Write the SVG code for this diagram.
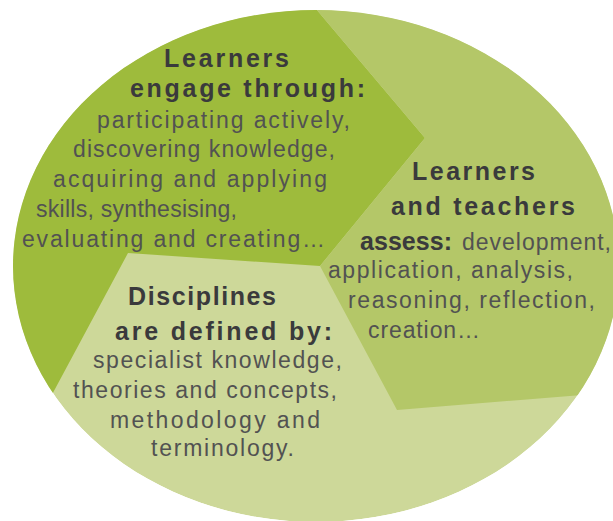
<svg xmlns="http://www.w3.org/2000/svg" width="613" height="521" viewBox="0 0 613 521">
  <style>
    .h { font-family: "Liberation Sans", Arial, sans-serif; font-weight: bold; font-size: 25px; fill: #3a3a3c; }
    .t { font-family: "Liberation Sans", Arial, sans-serif; font-size: 23px; fill: #525252; }
  </style>
  <defs>
    <clipPath id="oval">
      <ellipse cx="316" cy="266" rx="303" ry="256"/>
    </clipPath>
  </defs>
  <rect width="613" height="521" fill="#ffffff"/>
  <g id="regions" clip-path="url(#oval)">
    <ellipse id="region-disciplines" cx="316" cy="266" rx="303" ry="256" fill="#cdd899"/>
    <polygon id="region-engage" points="-10,-10 300,-10 425,138 320,266 128,253 33,430 -10,430" fill="#9ebb3c"/>
    <polygon id="region-assess" points="300,-10 630,-10 630,391 397,410 320,266 425,138" fill="#b4c768"/>
  </g>
  <g id="node-engage">
    <text class="h" x="164" y="67" textLength="125" lengthAdjust="spacing">Learners</text>
    <text class="h" x="130" y="97" textLength="235" lengthAdjust="spacing">engage through:</text>
    <text class="t" x="97" y="128" textLength="253" lengthAdjust="spacing">participating actively,</text>
    <text class="t" x="73" y="157" textLength="262" lengthAdjust="spacing">discovering knowledge,</text>
    <text class="t" x="53" y="187" textLength="274" lengthAdjust="spacing">acquiring and applying</text>
    <text class="t" x="36" y="217" textLength="201" lengthAdjust="spacing">skills, synthesising,</text>
    <text class="t" x="22" y="247" textLength="303" lengthAdjust="spacing">evaluating and creating…</text>
  </g>
  <g id="node-assess">
    <text class="h" x="412" y="180" textLength="123" lengthAdjust="spacing">Learners</text>
    <text class="h" x="391" y="215" textLength="184" lengthAdjust="spacing">and teachers</text>
    <text class="h" x="360" y="250" textLength="92" lengthAdjust="spacing">assess:</text>
    <text class="t" x="462" y="250" textLength="149" lengthAdjust="spacing">development,</text>
    <text class="t" x="328" y="278" textLength="245" lengthAdjust="spacing">application, analysis,</text>
    <text class="t" x="348" y="308" textLength="247" lengthAdjust="spacing">reasoning, reflection,</text>
    <text class="t" x="368" y="338" textLength="112" lengthAdjust="spacing">creation…</text>
  </g>
  <g id="node-disciplines">
    <text class="h" x="128" y="305" textLength="148" lengthAdjust="spacing">Disciplines</text>
    <text class="h" x="115" y="340" textLength="217" lengthAdjust="spacing">are defined by:</text>
    <text class="t" x="93" y="368" textLength="249" lengthAdjust="spacing">specialist knowledge,</text>
    <text class="t" x="73" y="398" textLength="264" lengthAdjust="spacing">theories and concepts,</text>
    <text class="t" x="110" y="428" textLength="210" lengthAdjust="spacing">methodology and</text>
    <text class="t" x="151" y="456" textLength="143" lengthAdjust="spacing">terminology.</text>
  </g>
</svg>
